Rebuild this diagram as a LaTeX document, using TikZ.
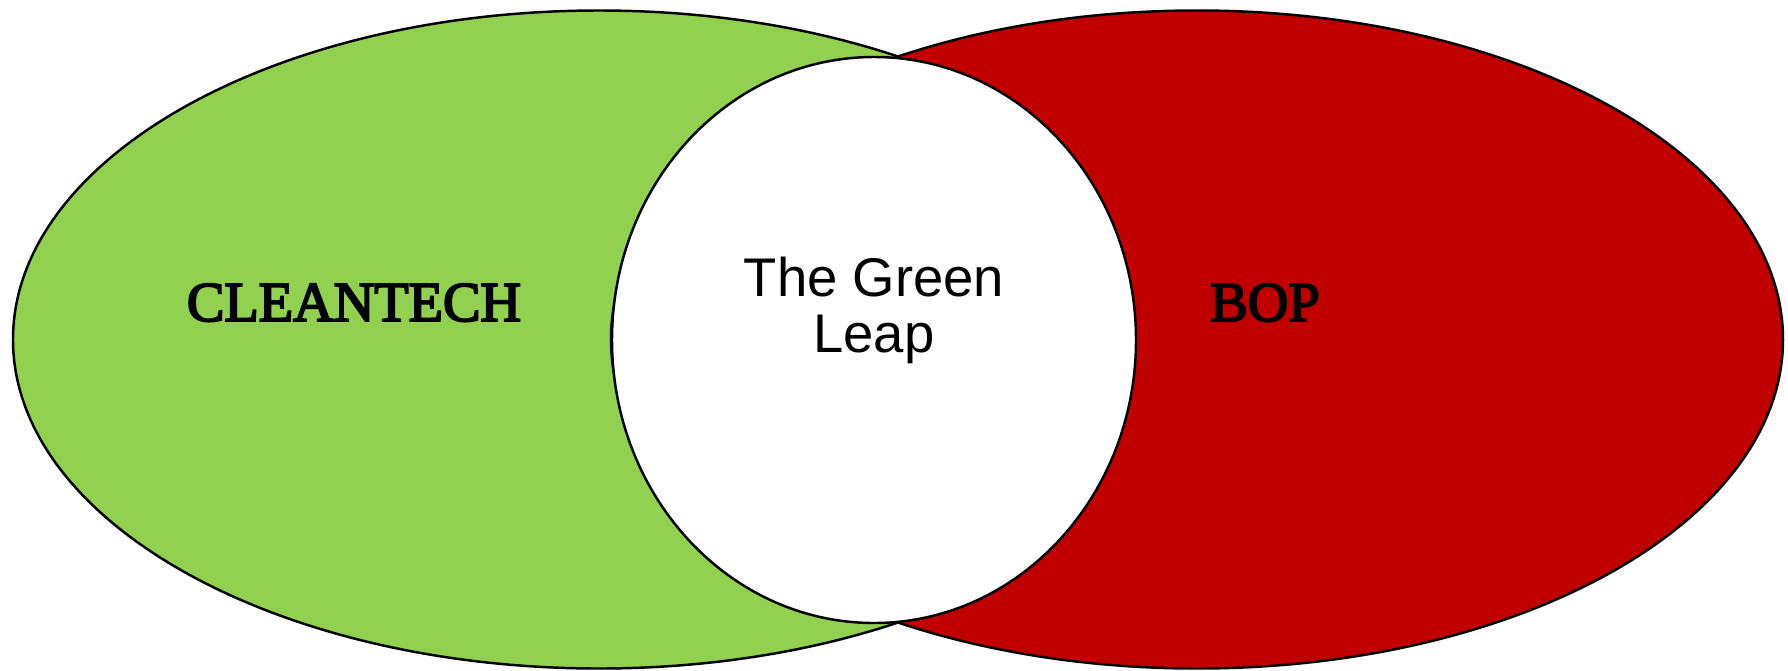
\documentclass[tikz,border=0pt]{standalone}
\usepackage{fontspec}
\usepackage{tikz}
\usetikzlibrary{positioning,calc}
\newfontfamily\timesfont[FakeBold=3.5]{Liberation Serif}
\newfontfamily\arialfont{Liberation Sans}
\definecolor{cleangreen}{HTML}{92D050}
\definecolor{bopred}{HTML}{C00000}

\begin{document}
\begin{tikzpicture}[x=0.02cm, y=-0.02cm,
    setline/.style={draw=black, line width=1.4pt},
    setlabel/.style={font=\timesfont\fontsize{32}{34}\selectfont, anchor=base, inner sep=0pt},
    leaplabel/.style={font=\arialfont\fontsize{31}{31.5}\selectfont, align=center, inner sep=0pt}]
      \useasboundingbox (0,0) rectangle (1788,670);

      % Sets
      \filldraw[setline, fill=cleangreen] (599,339.5) ellipse [x radius=586, y radius=329];
      \filldraw[setline, fill=bopred] (1197,339.5) ellipse [x radius=586, y radius=329];

      % Overlap
      \filldraw[setline, fill=white] (874,340) ellipse [x radius=262, y radius=283];

      % Labels
      \node[setlabel] (cleantech) at (354,321) {CLEANTECH};
      \node[setlabel] (bop) at (1265,321) {BOP};
      \node[leaplabel, anchor=base] (leap) at (874,352) {The Green\\Leap};
    \end{tikzpicture}
\end{document}
